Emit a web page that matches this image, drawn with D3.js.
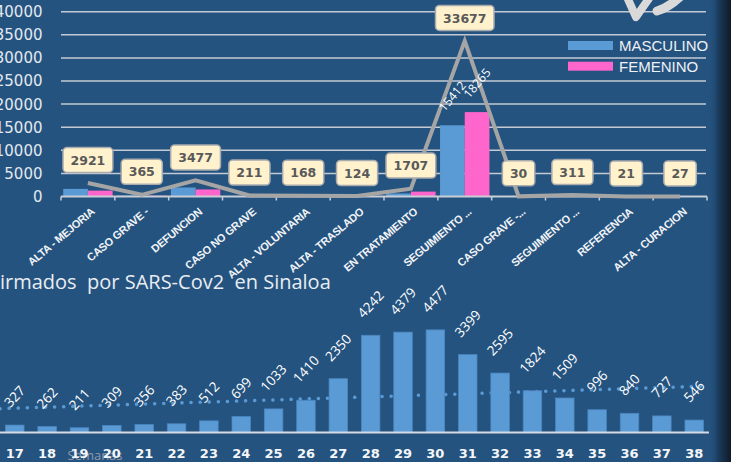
<!doctype html>
<html>
<head>
<script src="https://cdnjs.cloudflare.com/ajax/libs/d3/7.8.5/d3.min.js"></script>
<style>
  body { margin: 0; background: #25537f; }
  svg { display: block; }
</style>
</head>
<body>
<div id="chart"></div>
<script>
// --- top chart: casos por estado y sexo
var categorias = ["ALTA - MEJORIA", "CASO GRAVE -", "DEFUNCION", "CASO NO GRAVE", "ALTA - VOLUNTARIA",
  "ALTA - TRASLADO", "EN TRATAMIENTO", "SEGUIMIENTO ...", "CASO GRAVE -...", "SEGUIMIENTO ...",
  "REFERENCIA", "ALTA - CURACION"];
var masculino = [1650, 200, 1950, 110, 100, 70, 650, 15412, 18, 150, 10, 12];
var femenino  = [1271, 165, 1527, 101, 68, 54, 1057, 18265, 12, 161, 11, 15];
var totales   = [2921, 365, 3477, 211, 168, 124, 1707, 33677, 30, 311, 21, 27];
var yTicks = [0, 5000, 10000, 15000, 20000, 25000, 30000, 35000, 40000];

// --- bottom chart: casos confirmados por semana
var semanas = [17, 18, 19, 20, 21, 22, 23, 24, 25, 26, 27, 28, 29, 30, 31, 32, 33, 34, 35, 36, 37, 38];
var casos = [327, 262, 211, 309, 356, 383, 512, 699, 1033, 1410, 2350, 4242, 4379, 4477, 3399, 2595, 1824, 1509, 996, 840, 727, 546];
var tendencia = [1064, 2010]; // trend line value at first and last week shown

var W = 731, H = 462;
var azul = "#5b9bd5", rosa = "#ff66cc";

var svg = d3.select("#chart").append("svg")
  .attr("width", W).attr("height", H)
  .style("font-family", "'Open Sans', sans-serif");

svg.append("rect").attr("width", W).attr("height", H).attr("fill", "#25537f");

// ================= top chart =================
var x0 = d3.scaleBand().domain(d3.range(categorias.length)).range([61, 707]);
var x1 = d3.scaleBand().domain(["m", "f"]).range([0, x0.bandwidth()]).paddingOuter(0.09);
var y = d3.scaleLinear().domain([0, 40000]).range([196.5, 11.7]);

var gTop = svg.append("g");

// gridlines
gTop.selectAll(".grid")
  .data(yTicks.slice(1))
  .enter().append("line")
    .attr("x1", 61).attr("x2", 706)
    .attr("y1", function(d) { return y(d); })
    .attr("y2", function(d) { return y(d); })
    .attr("stroke", "#c3cad4").attr("stroke-width", 1.5);

// y labels
gTop.selectAll(".ylab")
  .data(yTicks)
  .enter().append("text")
    .attr("x", 42.5)
    .attr("y", function(d) { return y(d); })
    .attr("dy", "0.36em")
    .attr("text-anchor", "end")
    .style("font-family", "'DejaVu Sans'")
    .style("font-size", "15px")
    .attr("fill", "#e2e8ef")
    .text(function(d) { return d; });

// bars
var grupos = gTop.selectAll(".cat")
  .data(d3.range(categorias.length))
  .enter().append("g")
    .attr("transform", function(i) { return "translate(" + x0(i) + ",0)"; });

grupos.append("rect")
  .attr("x", x1("m")).attr("width", x1.bandwidth())
  .attr("y", function(i) { return y(masculino[i]); })
  .attr("height", function(i) { return y(0) - y(masculino[i]); })
  .attr("fill", azul);

grupos.append("rect")
  .attr("x", x1("f")).attr("width", x1.bandwidth())
  .attr("y", function(i) { return y(femenino[i]); })
  .attr("height", function(i) { return y(0) - y(femenino[i]); })
  .attr("fill", rosa);

// baseline + ticks
gTop.append("line")
  .attr("x1", 61).attr("x2", 707).attr("y1", y(0)).attr("y2", y(0))
  .attr("stroke", "#c9ced6").attr("stroke-width", 2);
gTop.selectAll(".tick")
  .data(d3.range(categorias.length + 1))
  .enter().append("line")
    .attr("x1", function(i) { return 61 + i * x0.step(); })
    .attr("x2", function(i) { return 61 + i * x0.step(); })
    .attr("y1", y(0)).attr("y2", y(0) + 4)
    .attr("stroke", "#c9ced6").attr("stroke-width", 1.5);

// category labels
gTop.selectAll(".clab")
  .data(d3.range(categorias.length))
  .enter().append("text")
    .attr("transform", function(i) { return "translate(" + (x0(i) + x0.bandwidth() / 2 + 5) + ",210) rotate(-40)"; })
    .attr("text-anchor", "end")
    .attr("dy", "0.35em")
    .style("font-family", "'Liberation Sans'")
    .style("font-size", "11px")
    .style("font-weight", "bold")
    .style("letter-spacing", "-0.3px")
    .attr("fill", "#f2f4f7")
    .text(function(i) { return categorias[i]; });

// total line
var linea = d3.line()
  .x(function(d, i) { return x0(i) + x0.bandwidth() / 2; })
  .y(function(d) { return y(d); });

gTop.append("path")
  .datum(totales)
  .attr("d", linea)
  .attr("fill", "none")
  .attr("stroke", "#a5a5a5")
  .attr("stroke-width", 4);

// rotated labels on the big bars
[["m", masculino], ["f", femenino]].forEach(function(s) {
  gTop.selectAll(".blab" + s[0])
    .data(d3.range(categorias.length).filter(function(i) { return s[1][i] > 10000; }))
    .enter().append("text")
      .attr("transform", function(i) {
        var cx = x0(i) + x1(s[0]) + x1.bandwidth() / 2;
        return "translate(" + cx + "," + (y(s[1][i]) - 29) + ") rotate(-50)";
      })
      .attr("text-anchor", "middle")
      .attr("dy", "0.35em")
      .style("font-size", "12px")
      .attr("fill", "#ffffff")
      .text(function(i) { return s[1][i]; });
});

// boxed total labels
var cajas = gTop.selectAll(".box")
  .data(totales)
  .enter().append("g")
    .attr("transform", function(d, i) {
      return "translate(" + (x0(i) + x0.bandwidth() / 2) + "," + (y(d) - 23) + ")";
    });

cajas.append("text")
  .attr("text-anchor", "middle")
  .attr("dy", "0.37em")
  .style("font-family", "'DejaVu Sans'")
  .style("font-size", "12.5px")
  .style("font-weight", "bold")
  .attr("fill", "#595959")
  .text(function(d) { return d; });

cajas.each(function() {
  var g = d3.select(this);
  var w = g.select("text").node().getComputedTextLength() + 15;
  g.insert("rect", "text")
    .attr("x", -w / 2).attr("y", -12.5)
    .attr("width", w).attr("height", 25)
    .attr("rx", 4)
    .attr("fill", "#fff2cc")
    .attr("stroke", "#a9abae").attr("stroke-width", 1.5);
});

// legend
var leyenda = gTop.append("g").attr("transform", "translate(568,41)");
[["MASCULINO", azul], ["FEMENINO", rosa]].forEach(function(d, i) {
  leyenda.append("rect").attr("x", 0).attr("y", i * 20.7).attr("width", 45).attr("height", 9).attr("fill", d[1]);
  leyenda.append("text").attr("x", 51).attr("y", i * 20.7 + 4.5).attr("dy", "0.36em")
    .style("font-family", "'Liberation Sans'").style("font-size", "15px")
    .attr("fill", "#eef1f5").text(d[0]);
});

// piece of logo at the top edge
gTop.append("path")
  .attr("d", "M627,-3 L636,17 L650,-3")
  .attr("fill", "none").attr("stroke", "#d9d9d9").attr("stroke-width", 8)
  .attr("stroke-linecap", "round").attr("stroke-linejoin", "round");
gTop.append("path")
  .attr("d", "M657,11 Q668,8 681,-4")
  .attr("fill", "none").attr("stroke", "#d9d9d9").attr("stroke-width", 9)
  .attr("stroke-linecap", "round");

// ================= bottom chart =================
var xb = d3.scaleBand().domain(semanas).range([-1.4, 710.4]).paddingInner(0.428).paddingOuter(0.214);
var yb = d3.scaleLinear().domain([0, 5000]).range([432.6, 317.9]);

var gBot = svg.append("g");

gBot.append("text")
  .attr("x", 0).attr("y", 289)
  .style("font-size", "20px")
  .style("white-space", "pre")
  .attr("fill", "#e8edf3")
  .text("irmados  por SARS-Cov2  en Sinaloa");

// trend line (dotted)
var idx = d3.scaleLinear().domain([xb(semanas[0]) + xb.bandwidth() / 2, xb(semanas[semanas.length - 1]) + xb.bandwidth() / 2]).range([0, semanas.length - 1]);
var tr = d3.scaleLinear().domain([0, semanas.length - 1]).range(tendencia);
gBot.append("line")
  .attr("x1", 0).attr("x2", 709)
  .attr("y1", yb(tr(idx(0)))).attr("y2", yb(tr(idx(709))))
  .attr("stroke", azul).attr("stroke-width", 3.5)
  .attr("stroke-linecap", "round")
  .attr("stroke-dasharray", "0.1 9");

gBot.selectAll(".bar")
  .data(casos)
  .enter().append("rect")
    .attr("x", function(d, i) { return xb(semanas[i]); })
    .attr("width", xb.bandwidth())
    .attr("y", function(d) { return yb(d); })
    .attr("height", function(d) { return yb(0) - yb(d); })
    .attr("fill", azul)
    .attr("stroke", "#4b86bf").attr("stroke-width", 0.8);

gBot.selectAll(".vlab")
  .data(casos)
  .enter().append("text")
    .attr("transform", function(d, i) {
      var n = String(d).length;
      return "translate(" + (xb(semanas[i]) + xb.bandwidth() / 2) + "," + (yb(d) - 21 - n * 2.5) + ") rotate(-47)";
    })
    .attr("text-anchor", "middle")
    .attr("dy", "0.35em")
    .style("font-size", "13.5px")
    .attr("fill", "#ffffff")
    .text(function(d) { return d; });

gBot.append("line")
  .attr("x1", 0).attr("x2", 709).attr("y1", yb(0)).attr("y2", yb(0))
  .attr("stroke", "#d6dce4").attr("stroke-width", 2);

gBot.append("text")
  .attr("x", 95).attr("y", 460)
  .attr("text-anchor", "middle")
  .style("font-size", "13px")
  .attr("fill", "#8e9aab")
  .text("Semanas");

gBot.selectAll(".wlab")
  .data(semanas)
  .enter().append("text")
    .attr("x", function(d) { return xb(d) + xb.bandwidth() / 2; })
    .attr("y", 458)
    .attr("text-anchor", "middle")
    .style("font-family", "'DejaVu Sans'")
    .style("font-size", "13px")
    .style("font-weight", "bold")
    .attr("fill", "#f4f6f9")
    .text(function(d) { return d; });

// dark edge on the right
var defs = svg.append("defs");
var grad = defs.append("linearGradient").attr("id", "borde").attr("x1", 0).attr("x2", 1).attr("y1", 0).attr("y2", 0);
grad.append("stop").attr("offset", "0%").attr("stop-color", "#25537f").attr("stop-opacity", 0);
grad.append("stop").attr("offset", "45%").attr("stop-color", "#1b3b5c");
grad.append("stop").attr("offset", "100%").attr("stop-color", "#101a26");
svg.append("rect").attr("x", 708).attr("y", 0).attr("width", 23).attr("height", H).attr("fill", "url(#borde)");
</script>
</body>
</html>
